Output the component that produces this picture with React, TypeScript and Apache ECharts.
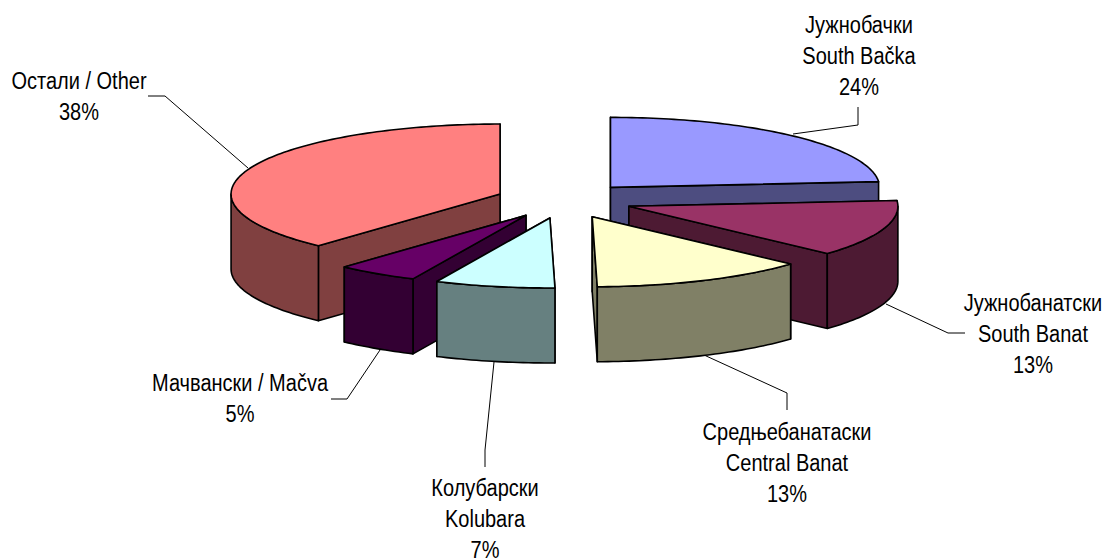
import React, { useEffect, useRef } from "react";
import * as echarts from "echarts";

const namesCyr = ["Јужнобачки", "Јужнобанатски", "Средњебанатаски", "Колубарски", "Мачвански / Mačva", "Остали / Other"];
const namesLat = ["South Bačka", "South Banat", "Central Banat", "Kolubara", "", ""];
const percentLabels = ["24%", "13%", "13%", "7%", "5%", "38%"];
const values = [23.7, 13.1, 12.9, 7.2, 4.9, 38.2];
const topColors = ["#9999ff", "#993366", "#ffffcc", "#ccffff", "#660066", "#ff8080"];
const sideColors = ["#4d4d80", "#4d1a33", "#808066", "#668080", "#330033", "#804040"];

const CX = 564, CY = 200.5, RX = 269, RY = 70, DEPTH = 75, EXPLODE = 0.255;
const FONT = '20px "Liberation Sans", Arial, sans-serif';

const total = values.reduce((a, b) => a + b, 0);
let acc = 0;
const slices = values.map((v, i) => {
  const start = (acc / total) * 2 * Math.PI;
  acc += v;
  const end = (acc / total) * 2 * Math.PI;
  return { i, start, end, mid: (start + end) / 2 };
});
const ordered = [...slices].sort((a, b) => -Math.cos(a.mid) - -Math.cos(b.mid));

function arc(ax: number, ay: number, a0: number, a1: number, dy = 0) {
  const n = Math.max(2, Math.ceil(Math.abs(a1 - a0) / 0.02));
  const pts: number[][] = [];
  for (let k = 0; k <= n; k++) {
    const t = a0 + ((a1 - a0) * k) / n;
    pts.push([ax + RX * Math.sin(t), ay - RY * Math.cos(t) + dy]);
  }
  return pts;
}

function renderItem(_p: any, api: any) {
  const a0 = api.value(0);
  const a1 = api.value(1);
  const idx = api.value(2);
  const m = (a0 + a1) / 2;
  const ax = CX + RX * EXPLODE * Math.sin(m);
  const ay = CY - RY * EXPLODE * Math.cos(m);
  const border = { stroke: "#000", lineWidth: 1.6, lineJoin: "round" };
  const side = { fill: sideColors[idx], ...border };
  const face = (t: number) => {
    const ex = ax + RX * Math.sin(t);
    const ey = ay - RY * Math.cos(t);
    return {
      y: ey,
      el: { type: "polygon", shape: { points: [[ax, ay], [ex, ey], [ex, ey + DEPTH], [ax, ay + DEPTH]] }, style: side },
    };
  };
  const faces = [face(a0), face(a1)].sort((p, q) => p.y - q.y).map((f) => f.el);
  const children: any[] = [...faces];
  const r0 = Math.max(a0, Math.PI / 2);
  const r1 = Math.min(a1, (3 * Math.PI) / 2);
  if (r1 > r0) {
    const upper = arc(ax, ay, r0, r1);
    const lower = arc(ax, ay, r1, r0, DEPTH);
    children.push({ type: "polygon", shape: { points: [...upper, ...lower] }, style: side });
  }
  children.push({
    type: "polygon",
    shape: { points: [[ax, ay], ...arc(ax, ay, a0, a1)] },
    style: { fill: topColors[idx], ...border },
  });
  return { type: "group", children };
}

const labelAnchors = [
  { x: 859, y: 9.5 },
  { x: 1033, y: 287.5 },
  { x: 787, y: 416.5 },
  { x: 485, y: 472.5 },
  { x: 240, y: 367.5 },
  { x: 79, y: 65.5 },
];
const leaders = [
  [[858, 107], [858, 125], [793, 134]],
  [[965, 333], [948, 333], [886, 304]],
  [[787, 410], [787, 393], [704, 355]],
  [[485, 467], [485, 450], [494, 362]],
  [[331, 399], [347, 399], [380, 350]],
  [[148, 96], [165, 96], [248, 168]],
];

export default function App() {
  const ref = useRef<HTMLDivElement>(null);
  useEffect(() => {
    document.body.style.margin = "0";
    const chart = echarts.init(ref.current!, undefined, { renderer: "svg" });
    const labelEls = namesCyr.map((n, i) => ({
      type: "text",
      x: labelAnchors[i].x,
      y: labelAnchors[i].y,
      scaleY: 1.15,
      style: {
        text: [n, namesLat[i], percentLabels[i]].filter(Boolean).join("\n"),
        font: FONT,
        fill: "#000",
        align: "center",
        verticalAlign: "top",
        lineHeight: 27,
      },
    }));
    const leaderEls = leaders.map((pts) => ({
      type: "polyline",
      shape: { points: pts },
      style: { stroke: "#000", lineWidth: 1, fill: "none" },
    }));
    chart.setOption({
      animation: false,
      backgroundColor: "#fff",
      graphic: { elements: [...leaderEls, ...labelEls] },
      series: [
        {
          type: "custom",
          coordinateSystem: "none",
          renderItem,
          silent: true,
          data: ordered.map((s) => [s.start, s.end, s.i]),
          z: 3,
        },
      ],
    });
    return () => chart.dispose();
  }, []);
  return <div ref={ref} style={{ width: 1110, height: 559 }} />;
}
